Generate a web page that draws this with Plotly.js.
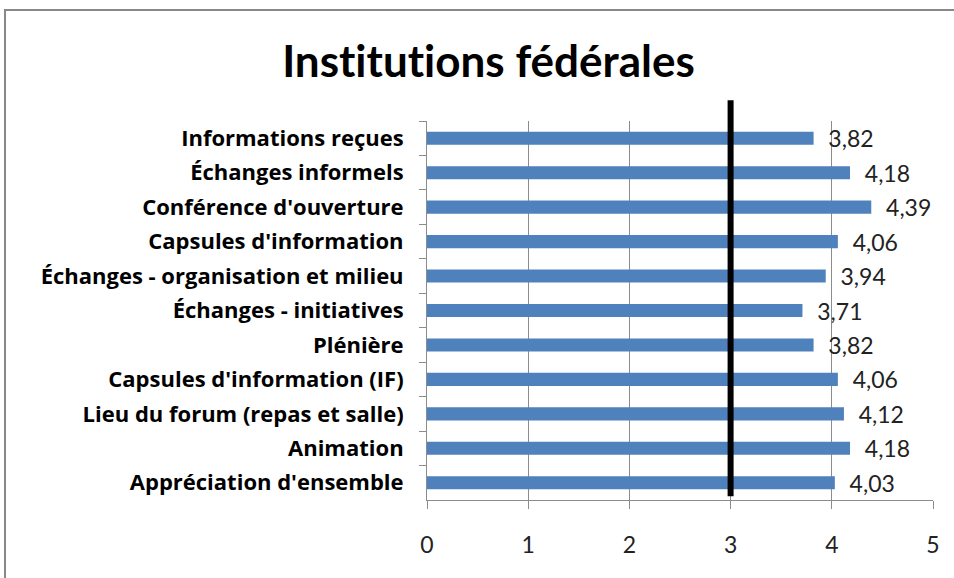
<!DOCTYPE html>
<html lang="fr">
<head>
    <meta charset="UTF-8">
    <title>Institutions fédérales</title>
    <script src="https://cdn.plot.ly/plotly-3.0.1.min.js"></script>
    <style>
        body { margin: 0; background: #fff; }
        #chart { width: 954px; height: 578px; }
        #chart text {
            font-variant-ligatures: none !important;
            font-feature-settings: "liga" 0, "clig" 0 !important;
        }
    </style>
</head>
<body>
    <div id="chart"></div>
    <script>
        // categories top to bottom, as in the picture
        const categories = [
            'Informations reçues',
            'Échanges informels',
            "Conférence d'ouverture",
            "Capsules d'information",
            'Échanges - organisation et milieu',
            'Échanges - initiatives',
            'Plénière',
            "Capsules d'information (IF)",
            'Lieu du forum (repas et salle)',
            'Animation',
            "Appréciation d'ensemble"
        ];
        const scores = [3.82, 4.18, 4.39, 4.06, 3.94, 3.71, 3.82, 4.06, 4.12, 4.18, 4.03];
        const xTicks = [0, 1, 2, 3, 4, 5];
        const threshold = 3;

        const font = 'Lato, "Open Sans", "DejaVu Sans", sans-serif';
        const labelFont = '"Open Sans", Lato, "DejaVu Sans", sans-serif';

        const bars = {
            type: 'bar',
            orientation: 'h',
            x: scores,
            y: categories,
            marker: { color: '#4f81bd' },
            texttemplate: '\u00a0\u00a0%{x:.2f}',
            textposition: 'outside',
            constraintext: 'none',
            cliponaxis: false,
            textfont: { family: font, size: 23, color: '#222' },
            hoverinfo: 'x+y'
        };

        const layout = {
            width: 954,
            height: 578,
            margin: { l: 427, r: 21, t: 121, b: 78 },
            paper_bgcolor: '#fff',
            plot_bgcolor: '#fff',
            separators: ', ',
            showlegend: false,
            bargap: 0.62,
            title: {
                text: 'Institutions fédérales',
                font: { family: font, size: 44, color: '#000', weight: 'bold' },
                x: 0.512,
                xanchor: 'center',
                y: 0.893,
                yanchor: 'middle'
            },
            xaxis: {
                range: [0, 5],
                tickvals: xTicks,
                ticktext: xTicks.map(String),
                showgrid: true,
                gridcolor: '#8c8c8c',
                gridwidth: 1,
                zeroline: false,
                showline: true,
                linecolor: '#8c8c8c',
                ticks: 'outside',
                ticklen: 8,
                tickcolor: '#8c8c8c',
                ticklabelstandoff: 16,
                tickfont: { family: font, size: 23, color: '#222' }
            },
            yaxis: {
                autorange: 'reversed',
                showgrid: false,
                zeroline: false,
                showline: true,
                linecolor: '#8c8c8c',
                ticks: 'outside',
                tickson: 'boundaries',
                ticklen: 7,
                tickcolor: '#8c8c8c',
                ticklabelstandoff: 18,
                tickfont: { family: labelFont, size: 22, color: '#000', weight: 'bold' }
            },
            shapes: [
                {
                    type: 'line',
                    xref: 'x', yref: 'paper',
                    x0: threshold, x1: threshold, y0: 0.01, y1: 1.055,
                    line: { color: '#000', width: 6 }
                },
                {
                    type: 'rect',
                    xref: 'paper', yref: 'paper',
                    x0: -0.834, x1: 1.2, y0: -0.4, y1: 1.293,
                    line: { color: '#888', width: 2 },
                    fillcolor: 'rgba(0,0,0,0)',
                    layer: 'below'
                }
            ]
        };

        Plotly.newPlot('chart', [bars], layout, { displayModeBar: false, staticPlot: true });
    </script>
</body>
</html>
